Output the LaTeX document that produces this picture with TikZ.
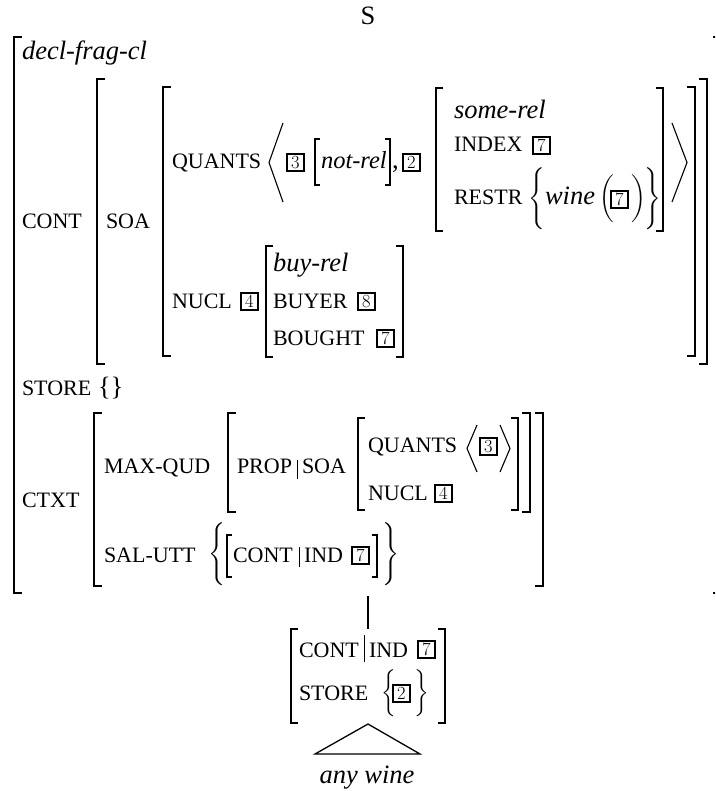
\documentclass[tikz,border=0pt]{standalone}
\usepackage[no-math]{fontspec}
\setmainfont{Liberation Serif}
\usepackage{graphicx}
\newsavebox\dlbox
\newsavebox\dlboxb
% #1 delimiter, #2 native height, #3 final total height, #4 bottom below baseline
\newcommand\dlm[4]{%
  \sbox\dlbox{\fontsize{12}{14}\selectfont\nulldelimiterspace=0pt$\left#1\vcenter{\hbox{\rule{0pt}{#2}}}\right.$}%
  \sbox\dlboxb{\resizebox*{!}{#3}{\usebox\dlbox}}%
  \raisebox{\dimexpr\dp\dlboxb-#4\relax}{\usebox\dlboxb}}
\newcommand\feat[1]{{\fontsize{22}{26}\selectfont #1}}
\newcommand\lbrk[4]{\draw[brk] ({#1+#4},#2) -- (#1,#2) -- (#1,#3) -- ({#1+#4},#3);}
\newcommand\rbrk[4]{\draw[brk] ({#1-#4},#2) -- (#1,#2) -- (#1,#3) -- ({#1-#4},#3);}
% boxed tag: name, left x, baseline y, digit
\newcommand\tagbox[4]{\node[num] (#1) at (#2,{#3-6.5}) {#4};}
\begin{document}
\begin{tikzpicture}[x=1pt,y=-1pt,
  every node/.style={inner sep=0pt,outer sep=0pt,anchor=base west,font=\fontsize{26.5}{32}\selectfont},
  num/.style={draw,line width=2pt,minimum width=16.8pt,minimum height=16.5pt,anchor=west,
              font=\fontfamily{lmr}\fontsize{18.5}{20}\selectfont},
  brk/.style={line width=1.5pt},
  ang/.style={line width=1.1pt},
  vbar/.style={line width=0.9pt},
  tree/.style={line width=1.4pt},
  tri/.style={line width=1.3pt,line join=miter}]
\useasboundingbox (0,0) rectangle (715,791);
\clip (0,0) rectangle (715,791);

\node[anchor=base] (s) at (368,25) {S};
% outer AVM
\lbrk{14}{37}{593}{8}
\rbrk{722}{37}{593}{9}
\node (type) at (22,60) {\itshape decl-frag-cl};
\node (cont) at (22,229) {\feat{CONT}};
\lbrk{97}{79}{364}{8} \rbrk{707}{79}{364}{8}
\node (soa) at (106,229) {\feat{SOA}};
\lbrk{163}{87}{356}{8} \rbrk{695}{87}{356}{8}
% QUANTS row
\node (quants) at (172,169) {\feat{QUANTS}};
\draw[ang] (283,123) -- (269,162.5) -- (283,202);
\tagbox{b3}{287}{169}{3}
\lbrk{315}{139}{185}{5}
\node[font=\fontsize{24.5}{30}\selectfont] (notrel) at (321,169) {\itshape not-rel};
\rbrk{390}{139}{185}{5}
\node (comma) at (392,169) {,};
\tagbox{b2}{403}{169}{2}
\lbrk{436}{88}{231}{7} \rbrk{663}{88}{231}{7}
\node (somerel) at (454,119) {\itshape some-rel};
\node (index) at (454,152) {\feat{INDEX}};
\tagbox{b7a}{533}{152}{7}
\node (restr) at (454,205) {\feat{RESTR}};
\node (rb1) at (528,205) {\dlm{\{}{28pt}{62pt}{25pt}};
\node (wine) at (545,205) {\itshape wine};
\node (rp1) at (599,205) {\dlm{(}{21.5pt}{48pt}{18pt}};
\tagbox{b7r}{611}{206}{7}
\node (rp2) at (631,205) {\dlm{)}{21.5pt}{48pt}{18pt}};
\node (rb2) at (644,205) {\dlm{\}}{28pt}{62pt}{25pt}};
\draw[ang] (672,123) -- (687,162.5) -- (672,202);
% NUCL
\node (nucl) at (172,308) {\feat{NUCL}};
\tagbox{b4}{241}{308}{4}
\lbrk{266}{246}{357}{7} \rbrk{403}{246}{357}{7}
\node (buyrel) at (273,272) {\itshape buy-rel};
\node (buyer) at (273,308) {\feat{BUYER}};
\tagbox{b8}{358}{308}{8}
\node (bought) at (273,345) {\feat{BOUGHT}};
\tagbox{b7b}{377}{345}{7}
% STORE
\node (store) at (22,395) {\feat{STORE}};
\node (emptyset) at (98,395) {\{\}};
% CTXT
\node (ctxt) at (22,507) {\feat{CTXT}};
\lbrk{94}{413}{586}{8} \rbrk{543}{413}{586}{8}
\node (maxqud) at (104,473) {\feat{MAX-QUD}};
\lbrk{228}{413}{512}{8} \rbrk{530}{413}{512}{8}
\node (prop) at (237,473) {\feat{PROP}};
\draw[vbar] (297,460) -- (297,479);
\node (soa2) at (302,473) {\feat{SOA}};
\lbrk{358}{418}{510}{7} \rbrk{518}{418}{510}{7}
\node (quants2) at (368,452) {\feat{QUANTS}};
\draw[ang] (477,425) -- (467,448.5) -- (477,472);
\tagbox{b3b}{480}{453}{3}
\draw[ang] (500,425) -- (510,448.5) -- (500,472);
\node (nucl2) at (368,500) {\feat{NUCL}};
\tagbox{b4b}{435}{500}{4}
\node (salutt) at (104,562) {\feat{SAL-UTT}};
\node (lbr) at (208,562) {\dlm{\{}{28.6pt}{63pt}{24pt}};
\lbrk{227}{535}{577}{5}
\node (cont2) at (233,562) {\feat{CONT}};
\draw[vbar] (299,547) -- (299,567);
\node (ind) at (304,562) {\feat{IND}};
\tagbox{b7c}{352}{562}{7}
\rbrk{377}{535}{577}{5}
\node (rbr) at (382,562) {\dlm{\}}{28.6pt}{63pt}{24pt}};
% tree
\coordinate (avmbot) at (368,596);
\coordinate (smalltop) at (368,629);
\draw[tree] (avmbot) -- (smalltop);
% small AVM
\lbrk{291}{629}{723}{7} \rbrk{445}{629}{723}{7}
\node (cont3) at (299,657) {\feat{CONT}};
\draw[vbar] (364,635) -- (364,662);
\node (ind3) at (369,657) {\feat{IND}};
\tagbox{b7d}{418}{656}{7}
\node (store3) at (299,700) {\feat{STORE}};
\node (lbr3) at (381,700) {\dlm{\{}{21.4pt}{47pt}{17pt}};
\tagbox{b2b}{393}{700}{2}
\node (rbr3) at (414,700) {\dlm{\}}{21.4pt}{47pt}{17pt}};
% triangle
\coordinate (apex) at (368,724);
\coordinate (tl) at (315,754);
\coordinate (tr) at (420,754);
\draw[tri] (apex) -- (tl) -- (tr) -- cycle;
\node[anchor=base] (leaf) at (367,783) {\itshape any wine};
\end{tikzpicture}
\end{document}
